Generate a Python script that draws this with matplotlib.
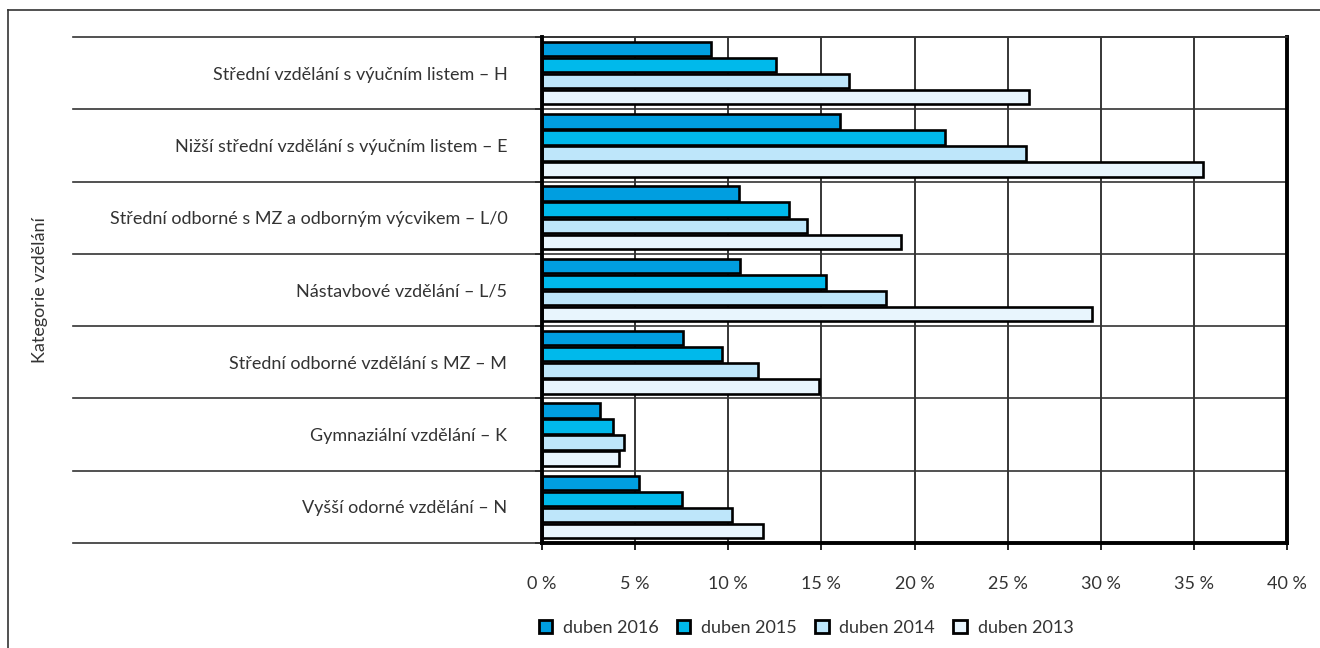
import matplotlib
matplotlib.use("Agg")
import matplotlib.pyplot as plt
from matplotlib.lines import Line2D
from matplotlib.patches import Patch
import matplotlib.transforms as mtransforms
import numpy as np

plt.rcParams['font.family'] = ['Lato', 'DejaVu Sans']
plt.rcParams['font.weight'] = 'normal'

categories = [
    "Střední vzdělání s výučním listem – H",
    "Nižší střední vzdělání s výučním listem – E",
    "Střední odborné s MZ a odborným výcvikem – L/0",
    "Nástavbové vzdělání – L/5",
    "Střední odborné vzdělání s MZ – M",
    "Gymnaziální vzdělání – K",
    "Vyšší odorné vzdělání – N",
]
series_names = ["duben 2016", "duben 2015", "duben 2014", "duben 2013"]
v2016 = [9.1, 16.0, 10.6, 10.65, 7.55, 3.1, 5.2]
v2015 = [12.55, 21.65, 13.25, 15.25, 9.65, 3.8, 7.5]
v2014 = [16.5, 26.0, 14.25, 18.47, 11.6, 4.42, 10.2]
v2013 = [26.15, 35.5, 19.3, 29.52, 14.87, 4.12, 11.88]
xticks = [0, 5, 10, 15, 20, 25, 30, 35, 40]
colors = ["#009ee0", "#00b9eb", "#bee6fa", "#e8f5fd"]
txt = '#333333'
fs = 13

fig = plt.figure(figsize=(13.2, 6.48), dpi=100)
ax = fig.add_axes([542/1320, 1-543/648, 745/1320, 506/648])

values = [v2016, v2015, v2014, v2013]
n = len(categories)
y = np.arange(n)
pitch = 0.222
h = 0.2
for i, (vals, c, name) in enumerate(zip(values, colors, series_names)):
    ax.barh(y + (i - 1.5) * pitch, vals, height=h, color=c, edgecolor='black',
            linewidth=1.9, label=name, zorder=3)

ax.set_xlim(0, 40)
ax.set_ylim(n - 0.5, -0.5)
ax.set_xticks(xticks)
ax.set_xticklabels([f"{t} %" for t in xticks], fontsize=fs, color=txt)
ax.tick_params(axis='x', length=5, width=1.2, pad=19, color='black')

ax.set_yticks(y)
ax.set_yticklabels(categories, fontsize=fs, color=txt)
ax.tick_params(axis='y', which='major', length=0, pad=25)
ax.set_yticks(np.arange(n + 1) - 0.5, minor=True)
ax.tick_params(axis='y', which='minor', length=5, width=1.2, color='black')

# vertical gridlines
for t in xticks[1:-1]:
    ax.axvline(t, color='black', linewidth=1.1, zorder=1)

# category separators extending into label area
trans = mtransforms.blended_transform_factory(ax.transAxes, ax.transData)
for b in np.arange(n + 1) - 0.5:
    ax.add_line(Line2D([-0.6295, 1], [b, b], transform=trans, color='#333333',
                       linewidth=1.2, clip_on=False, zorder=2))

for s in ['left', 'right', 'bottom']:
    ax.spines[s].set_linewidth(2.8)
    ax.spines[s].set_color('black')
ax.spines['top'].set_linewidth(1.2)
ax.spines['top'].set_color('#333333')
ax.spines['left'].set_zorder(4)

fig.text(40/1320, 1-290/648, "Kategorie vzdělání", rotation=90, ha='center',
         va='center', fontsize=fs, color=txt)

handles = [Patch(facecolor=c, edgecolor='black', linewidth=2.0) for c in colors]
fig.legend(handles, series_names, loc='center', bbox_to_anchor=(806/1320, 1-628/648),
           ncol=4, frameon=False, fontsize=fs, handlelength=0.75, handleheight=0.75,
           handletextpad=0.6, columnspacing=1.0, labelcolor=txt)

# figure border (left and top)
fig.add_artist(Line2D([8/1320, 8/1320], [0, 1-10/648], transform=fig.transFigure,
                      color='#333333', linewidth=1.2))
fig.add_artist(Line2D([8/1320, 1], [1-10/648, 1-10/648], transform=fig.transFigure,
                      color='#333333', linewidth=1.2))

fig.savefig("out.png", dpi=100)
